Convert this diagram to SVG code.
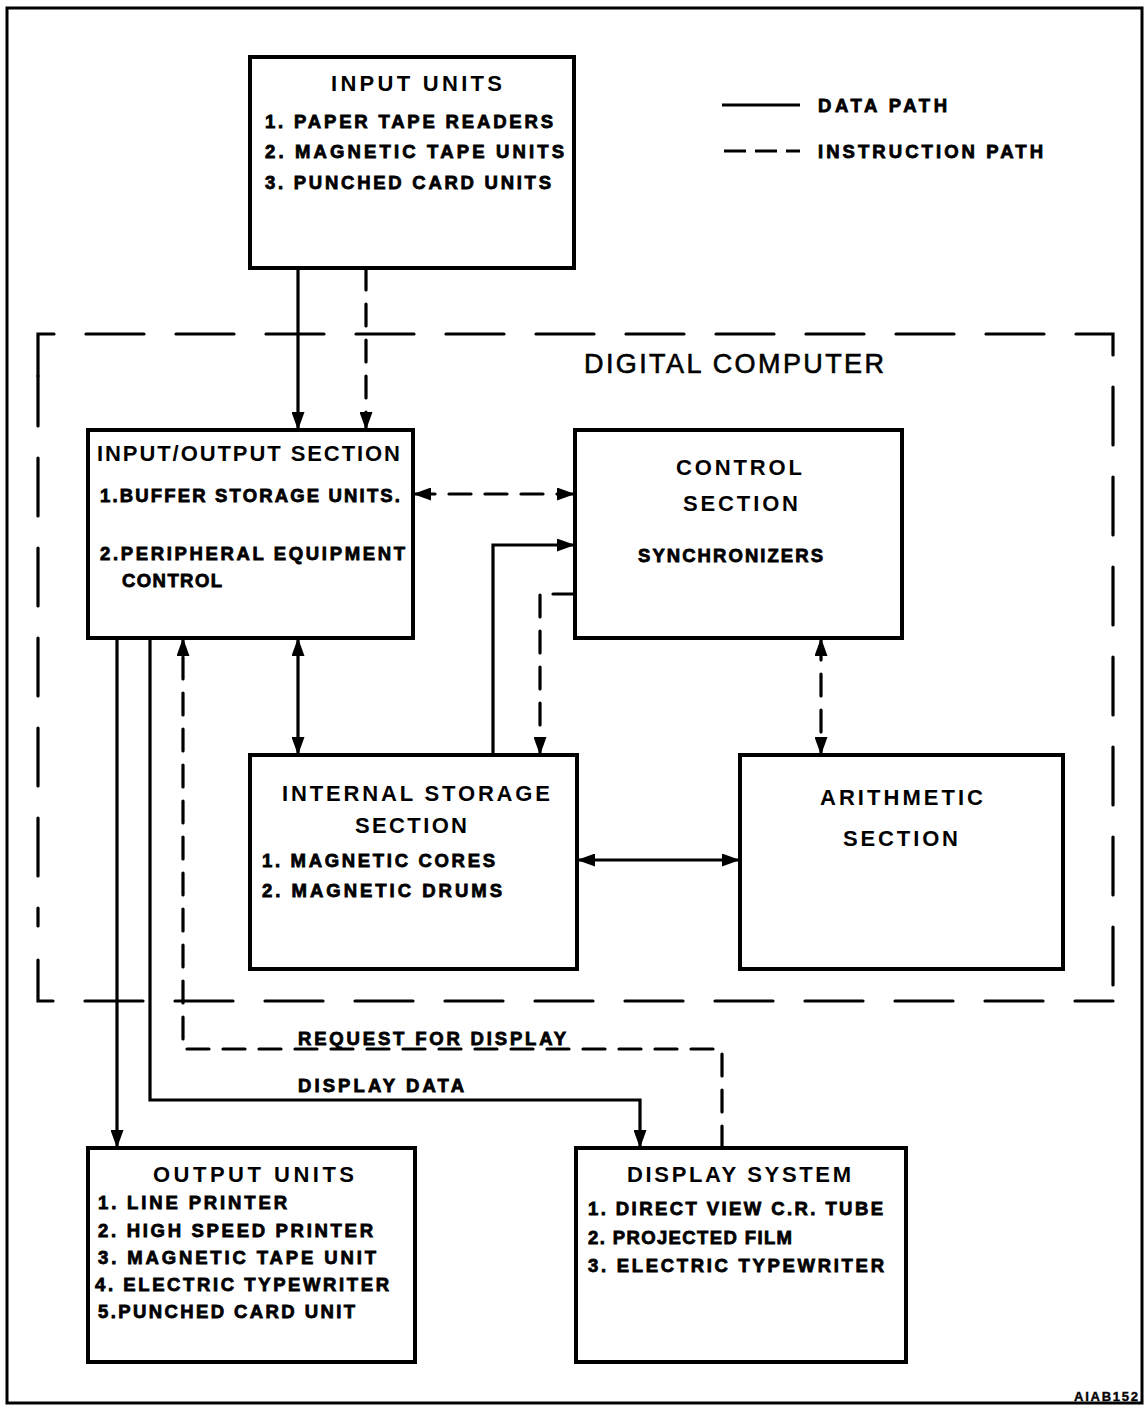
<svg xmlns="http://www.w3.org/2000/svg" width="1145" height="1407" viewBox="0 0 1145 1407">
<style>
.box{fill:#fff;stroke:#000;stroke-width:4}
.ln{fill:none;stroke:#000;stroke-width:3.2}
.dl{fill:none;stroke:#000;stroke-width:3.2;stroke-dasharray:22 14;stroke-linecap:round}
.bd{fill:none;stroke:#000;stroke-width:3.2;stroke-dasharray:58 32;stroke-linecap:round}
.t{font-family:"Liberation Sans",Arial,sans-serif;font-weight:bold;font-size:22px;fill:#000}
.i{font-family:"Liberation Sans",Arial,sans-serif;font-weight:bold;font-size:18.5px;fill:#000;stroke:#000;stroke-width:0.8}
.big{font-family:"Liberation Sans",Arial,sans-serif;font-size:27px;fill:#000;stroke:#000;stroke-width:0.6}
</style>
<defs>
<marker id="ah" markerUnits="userSpaceOnUse" markerWidth="18" markerHeight="13" viewBox="0 0 18 13" refX="18" refY="6.5" orient="auto-start-reverse">
<path d="M0,0 L18,6.5 L0,13 z" fill="#000"/>
</marker>
</defs>
<rect x="0" y="0" width="1145" height="1407" fill="#fff"/>
<rect x="7" y="8" width="1135" height="1395" fill="none" stroke="#000" stroke-width="3"/>

<g id="legend">
<line x1="722" y1="105" x2="800" y2="105" class="ln"/>
<text x="818" y="112" class="i" textLength="129" lengthAdjust="spacing">DATA PATH</text>
<line x1="724" y1="151" x2="800" y2="151" class="ln" stroke-dasharray="22 9"/>
<text x="818" y="158" class="i" textLength="225" lengthAdjust="spacing">INSTRUCTION PATH</text>
</g>

<g id="digital-computer">
<path d="M38,376 V334 H1113 V1001" class="bd"/>
<path d="M1113,1001 H38 V960" class="bd" stroke-dashoffset="20"/>
<path d="M38,926 V376" class="bd" stroke-dashoffset="40"/>
<text x="584" y="373" class="big" textLength="300" lengthAdjust="spacing">DIGITAL COMPUTER</text>
</g>

<g id="connectors">
<line x1="298" y1="268" x2="298" y2="430" class="ln" marker-end="url(#ah)"/>
<line x1="366" y1="268" x2="366" y2="430" class="dl" marker-end="url(#ah)"/>
<line x1="413" y1="494" x2="575" y2="494" class="dl" marker-start="url(#ah)" marker-end="url(#ah)"/>
<path d="M493,755 V545 H575" class="ln" marker-end="url(#ah)"/>
<path d="M575,594 H540 V755" class="dl" marker-end="url(#ah)"/>
<line x1="298" y1="638" x2="298" y2="755" class="ln" marker-start="url(#ah)" marker-end="url(#ah)"/>
<line x1="821" y1="638" x2="821" y2="755" class="dl" marker-start="url(#ah)" marker-end="url(#ah)"/>
<line x1="577" y1="860" x2="740" y2="860" class="ln" marker-start="url(#ah)" marker-end="url(#ah)"/>
<line x1="117" y1="638" x2="117" y2="1148" class="ln" marker-end="url(#ah)"/>
<path d="M150,638 V1100 H640 V1148" class="ln" marker-end="url(#ah)"/>
<path d="M722,1148 V1049 H183 V638" class="dl" marker-end="url(#ah)"/>
<text x="298" y="1045" class="i" textLength="268" lengthAdjust="spacing">REQUEST FOR DISPLAY</text>
<text x="298" y="1092" class="i" textLength="166" lengthAdjust="spacing">DISPLAY DATA</text>
</g>

<g id="input-units">
<rect x="250" y="57" width="324" height="211" class="box"/>
<text x="331" y="91" class="t" textLength="171" lengthAdjust="spacing">INPUT UNITS</text>
<text x="265" y="128" class="i" textLength="288" lengthAdjust="spacing">1. PAPER TAPE READERS</text>
<text x="265" y="158" class="i" textLength="299" lengthAdjust="spacing">2. MAGNETIC TAPE UNITS</text>
<text x="265" y="189" class="i" textLength="286" lengthAdjust="spacing">3. PUNCHED CARD UNITS</text>
</g>

<g id="io-section">
<rect x="88" y="430" width="325" height="208" class="box"/>
<text x="97" y="461" class="t" textLength="303" lengthAdjust="spacing">INPUT/OUTPUT SECTION</text>
<text x="100" y="502" class="i" textLength="300" lengthAdjust="spacing">1.BUFFER STORAGE UNITS.</text>
<text x="100" y="560" class="i" textLength="305" lengthAdjust="spacing">2.PERIPHERAL EQUIPMENT</text>
<text x="122" y="587" class="i" textLength="100" lengthAdjust="spacing">CONTROL</text>
</g>

<g id="control-section">
<rect x="575" y="430" width="327" height="208" class="box"/>
<text x="676" y="475" class="t" textLength="126" lengthAdjust="spacing">CONTROL</text>
<text x="683" y="511" class="t" textLength="115" lengthAdjust="spacing">SECTION</text>
<text x="638" y="562" class="i" textLength="185" lengthAdjust="spacing">SYNCHRONIZERS</text>
</g>

<g id="internal-storage">
<rect x="250" y="755" width="327" height="214" class="box"/>
<text x="282" y="801" class="t" textLength="268" lengthAdjust="spacing">INTERNAL STORAGE</text>
<text x="355" y="833" class="t" textLength="112" lengthAdjust="spacing">SECTION</text>
<text x="262" y="867" class="i" textLength="233" lengthAdjust="spacing">1. MAGNETIC CORES</text>
<text x="262" y="897" class="i" textLength="240" lengthAdjust="spacing">2. MAGNETIC DRUMS</text>
</g>

<g id="arithmetic">
<rect x="740" y="755" width="323" height="214" class="box"/>
<text x="820" y="805" class="t" textLength="163" lengthAdjust="spacing">ARITHMETIC</text>
<text x="843" y="846" class="t" textLength="115" lengthAdjust="spacing">SECTION</text>
</g>

<g id="output-units">
<rect x="88" y="1148" width="327" height="214" class="box"/>
<text x="153" y="1182" class="t" textLength="201" lengthAdjust="spacing">OUTPUT UNITS</text>
<text x="98" y="1209" class="i" textLength="189" lengthAdjust="spacing">1. LINE PRINTER</text>
<text x="98" y="1237" class="i" textLength="275" lengthAdjust="spacing">2. HIGH SPEED PRINTER</text>
<text x="98" y="1264" class="i" textLength="278" lengthAdjust="spacing">3. MAGNETIC TAPE UNIT</text>
<text x="95" y="1291" class="i" textLength="294" lengthAdjust="spacing">4. ELECTRIC TYPEWRITER</text>
<text x="98" y="1318" class="i" textLength="257" lengthAdjust="spacing">5.PUNCHED CARD UNIT</text>
</g>

<g id="display-system">
<rect x="576" y="1148" width="330" height="214" class="box"/>
<text x="627" y="1182" class="t" textLength="224" lengthAdjust="spacing">DISPLAY SYSTEM</text>
<text x="588" y="1215" class="i" textLength="295" lengthAdjust="spacing">1. DIRECT VIEW C.R. TUBE</text>
<text x="588" y="1244" class="i" textLength="204" lengthAdjust="spacing">2. PROJECTED FILM</text>
<text x="588" y="1272" class="i" textLength="296" lengthAdjust="spacing">3. ELECTRIC TYPEWRITER</text>
</g>

<text x="1074" y="1401" class="i" style="font-size:13px;stroke-width:0.4" textLength="64" lengthAdjust="spacing">AIAB152</text>
</svg>
